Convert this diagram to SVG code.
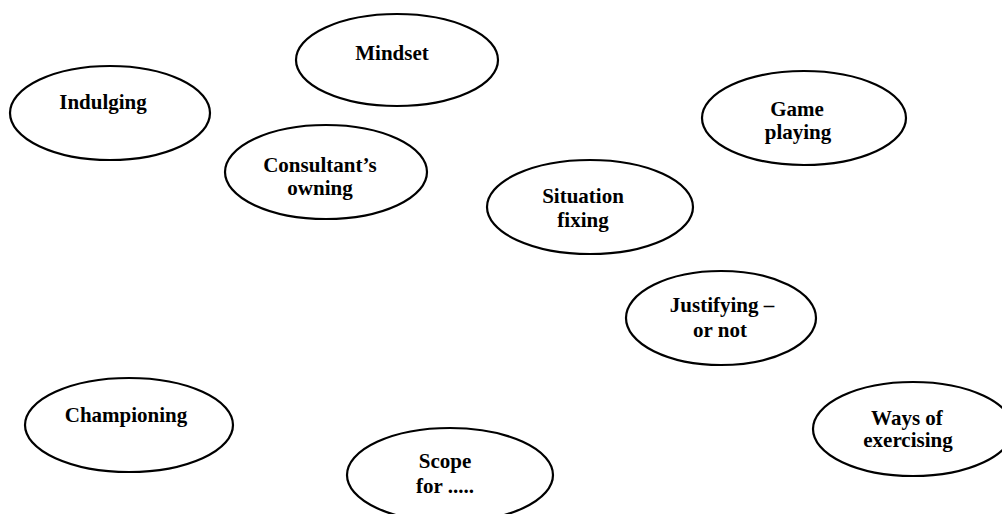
<svg xmlns="http://www.w3.org/2000/svg" width="1002" height="514" viewBox="0 0 1002 514">
  <style>
    .node ellipse { fill: #ffffff; stroke: #000000; stroke-width: 2.2; }
    .node text { font-family: "Liberation Serif", "Times New Roman", serif; font-weight: bold; font-size: 21px; fill: #000000; text-anchor: middle; }
  </style>
  <rect x="0" y="0" width="1002" height="514" fill="#ffffff"/>
  <g id="connectors"></g>
  <g id="mindset" class="node">
    <ellipse cx="397" cy="60" rx="101" ry="46"/>
    <text x="392" y="60">Mindset</text>
  </g>
  <g id="indulging" class="node">
    <ellipse cx="110" cy="113" rx="100" ry="47"/>
    <text x="103" y="109">Indulging</text>
  </g>
  <g id="consultants-owning" class="node">
    <ellipse cx="326" cy="172" rx="101" ry="47"/>
    <text x="320" y="172">Consultant’s</text>
    <text x="320" y="195">owning</text>
  </g>
  <g id="game-playing" class="node">
    <ellipse cx="804" cy="118" rx="102" ry="47"/>
    <text x="797" y="116">Game</text>
    <text x="798" y="139">playing</text>
  </g>
  <g id="situation-fixing" class="node">
    <ellipse cx="590" cy="207" rx="103" ry="47"/>
    <text x="583" y="203">Situation</text>
    <text x="583" y="227">fixing</text>
  </g>
  <g id="justifying" class="node">
    <ellipse cx="721" cy="318" rx="95" ry="47"/>
    <text x="722" y="312">Justifying –</text>
    <text x="720" y="337">or not</text>
  </g>
  <g id="championing" class="node">
    <ellipse cx="129" cy="425" rx="104" ry="47"/>
    <text x="126" y="422">Championing</text>
  </g>
  <g id="ways-of-exercising" class="node">
    <ellipse cx="913" cy="429" rx="100" ry="47"/>
    <text x="907" y="425">Ways of</text>
    <text x="908" y="447">exercising</text>
  </g>
  <g id="scope-for" class="node">
    <ellipse cx="450" cy="475" rx="103" ry="47"/>
    <text x="445" y="468">Scope</text>
    <text x="445" y="493">for .....</text>
  </g>
</svg>
